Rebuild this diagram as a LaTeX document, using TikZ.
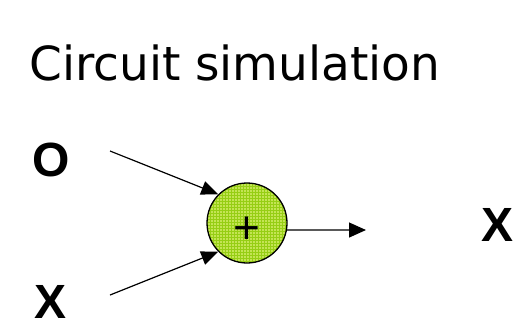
\documentclass[tikz,border=0pt]{standalone}
\usepackage{fontspec}
\setmainfont{DejaVu Sans}
\newfontfamily\labelfont{Liberation Sans}
\usetikzlibrary{arrows.meta,patterns}

\definecolor{sumfill}{RGB}{196,228,84}
\definecolor{sumgrid}{RGB}{150,206,20}

\begin{document}
\begin{tikzpicture}[x=1pt, y=-1pt, >={Triangle[length=17pt,width=14pt]},
    signal/.style={font=\labelfont\bfseries\fontsize{48}{56}\selectfont, inner sep=0pt, anchor=base},
    adder/.style={circle, draw, line width=1.3pt, minimum size=80pt, inner sep=0pt,
        preaction={fill=sumfill}, pattern=grid, pattern color=sumgrid},
    wire/.style={->, line width=1.2pt}]
    % Rahmen
    \useasboundingbox (0,0) rectangle (527,327);

    % Titel
    \node[anchor=base west, inner sep=0pt, font=\fontsize{47}{56}\selectfont] (title) at (29,80) {Circuit simulation};

    % Addierer
    \node[adder] (sum) at (247,223) {};
    \node[font=\labelfont\fontsize{46}{50}\selectfont, inner sep=0pt] (plus) at (247,230) {+};

    % Eingaenge und Ausgang
    \node[signal] (inO) at (51,176) {O};
    \node[signal] (inX) at (51,318) {X};
    \node[signal] (outX) at (498,241) {X};
    \coordinate (startO) at (110,151);
    \coordinate (startX) at (110,295);
    \coordinate (stop) at (366,230);

    \draw[wire] (startO) -- (sum.135);
    \draw[wire] (startX) -- (sum.225);
    \draw[wire, >={Triangle[length=17pt,width=15pt]}] (sum.-10) -- (stop);
\end{tikzpicture}
\end{document}
